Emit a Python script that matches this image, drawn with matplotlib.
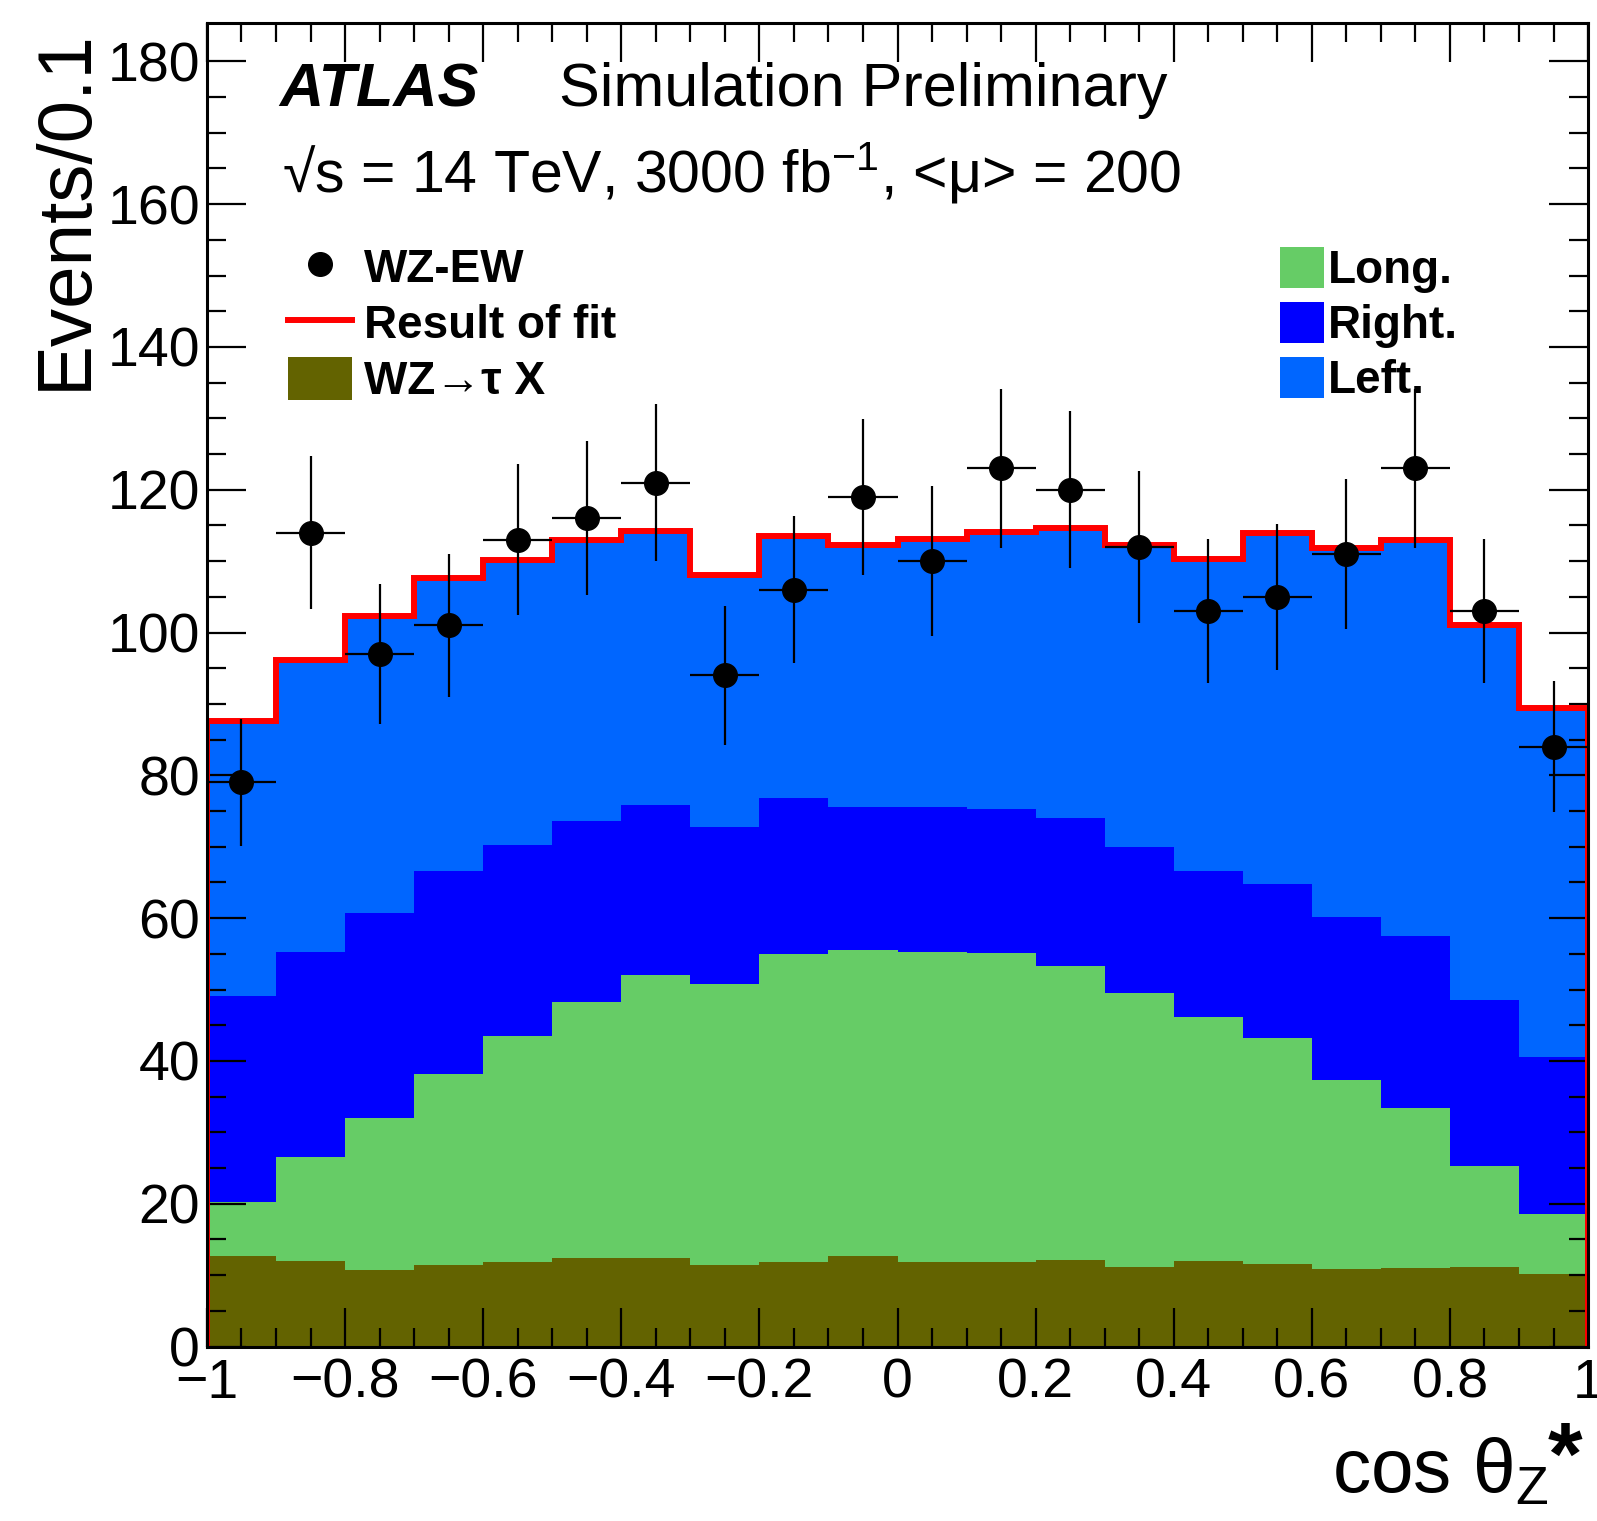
import numpy as np
import matplotlib
matplotlib.use("Agg")
import matplotlib.pyplot as plt
from matplotlib.lines import Line2D
from matplotlib.patches import Patch

plt.rcParams['font.family'] = ['Liberation Sans', 'DejaVu Sans']
plt.rcParams['mathtext.fontset'] = 'custom'
plt.rcParams['mathtext.rm'] = 'Liberation Sans'
plt.rcParams['mathtext.it'] = 'Liberation Sans:italic'
plt.rcParams['mathtext.bf'] = 'Liberation Sans:bold'
plt.rcParams['mathtext.default'] = 'regular'

# Bin edges in cos theta_Z*
edges = np.linspace(-1, 1, 21)

# Stacked components (events per bin)
wz_tau = [12.7, 12.0, 10.7, 11.4, 11.8, 12.4, 12.4, 11.4, 11.8, 12.7,
          11.8, 11.8, 12.1, 11.1, 12.0, 11.5, 10.9, 11.0, 11.2, 10.2]
long_pol = [7.6, 14.5, 21.3, 26.8, 31.7, 35.9, 39.6, 39.4, 43.2, 42.9,
            43.5, 43.3, 41.2, 38.4, 34.2, 31.7, 26.4, 22.4, 14.1, 8.3]
right_pol = [28.8, 28.8, 28.7, 28.4, 26.7, 25.3, 23.9, 21.9, 21.8, 20.0,
             20.2, 20.2, 20.7, 20.4, 20.4, 21.6, 22.8, 24.1, 23.2, 22.1]
left_pol = [38.5, 40.9, 41.6, 41.1, 40.0, 39.4, 38.3, 35.4, 36.7, 36.6,
            37.6, 38.8, 40.6, 42.3, 43.7, 49.2, 51.7, 55.5, 52.5, 48.9]

# Pseudo-data (WZ-EW) and its errors
data = [79, 114, 97, 101, 113, 116, 121, 94, 106, 119,
        110, 123, 120, 112, 103, 105, 111, 123, 103, 84]
data_err = [8.9, 10.7, 9.8, 10.0, 10.6, 10.8, 11.0, 9.7, 10.3, 10.9,
            10.5, 11.1, 11.0, 10.6, 10.1, 10.2, 10.5, 11.1, 10.1, 9.2]

xtick_vals = [-1, -0.8, -0.6, -0.4, -0.2, 0, 0.2, 0.4, 0.6, 0.8, 1]
xtick_labels = ['\u22121', '\u22120.8', '\u22120.6', '\u22120.4', '\u22120.2',
                '0', '0.2', '0.4', '0.6', '0.8', '1']
ytick_vals = [0, 20, 40, 60, 80, 100, 120, 140, 160, 180]

c_tau = '#636300'
c_long = '#66cc66'
c_right = '#0000ff'
c_left = '#0066ff'

fig = plt.figure(figsize=(15.97, 15.21), dpi=100)
ax = fig.add_axes([0.1296, 0.1147, 0.8648, 0.8703])

# stack the histograms
comps = [(wz_tau, c_tau), (long_pol, c_long), (right_pol, c_right), (left_pol, c_left)]
lower = np.zeros(len(data))
for vals, col in comps:
    upper = lower + np.array(vals)
    ax.stairs(upper, edges, baseline=lower, fill=True, color=col, lw=0, zorder=1)
    lower = upper
total = lower

ax.stairs(total, edges, baseline=0, fill=False, color='red', lw=4.3, zorder=2)

centers = 0.5 * (edges[:-1] + edges[1:])
half_w = 0.5 * (edges[1:] - edges[:-1])
ax.errorbar(centers, data, xerr=half_w, yerr=data_err, fmt='o', color='black',
            ms=17, elinewidth=1.6, capsize=0, zorder=3)

ax.set_xlim(-1, 1)
ax.set_ylim(0, 185.4)
ax.set_xticks(xtick_vals)
ax.set_xticklabels(xtick_labels)
ax.set_xticks(np.arange(-1, 1.001, 0.05), minor=True)
ax.set_yticks(ytick_vals)
ax.set_yticks(np.arange(0, 185, 5), minor=True)

ax.tick_params(which='both', direction='in', top=True, right=True, width=1.6)
ax.tick_params(which='major', length=28)
ax.tick_params(which='minor', length=14)
ax.tick_params(axis='y', labelsize=40, pad=5)
ax.tick_params(axis='x', labelsize=40, pad=8)
for s in ax.spines.values():
    s.set_linewidth(2.2)
    s.set_zorder(4)

ax.set_ylabel('Events/0.1', fontsize=55, loc='top')
ax.yaxis.set_label_coords(-0.076, 0.995)
ax.set_xlabel(r'cos $\theta_{Z}$', fontsize=55, loc='right')
ax.xaxis.set_label_coords(0.971, -0.068)
ax.text(0.9835, -0.086, '*', transform=ax.transAxes, fontsize=64,
        fontweight='bold', ha='center', va='center')

ax.text(0.052, 0.937, 'ATLAS', transform=ax.transAxes, fontsize=44,
        fontweight='bold', fontstyle='italic')
ax.text(0.255, 0.937, 'Simulation Preliminary', transform=ax.transAxes, fontsize=44)
ax.text(0.054, 0.872, '\u221as = 14 TeV, 3000 fb$^{-1}$, <\u03bc> = 200',
        transform=ax.transAxes, fontsize=42.5)

leg_font = {'family': ['Liberation Sans', 'DejaVu Sans'], 'weight': 'bold', 'size': 33}

h_left = [Line2D([], [], marker='o', ls='none', color='black', ms=17),
          Line2D([], [], color='red', lw=4.3),
          Patch(facecolor=c_tau, edgecolor='none')]
leg1 = ax.legend(h_left, ['WZ-EW', 'Result of fit', 'WZ\u2192\u03c4 X'],
                 loc='upper left', bbox_to_anchor=(0.0587, 0.832), frameon=False,
                 prop=leg_font, handlelength=1.4, handleheight=1.05,
                 handletextpad=0.25, labelspacing=0.2, borderpad=0, borderaxespad=0)
ax.add_artist(leg1)

h_right = [Patch(facecolor=c_long, edgecolor='none'),
           Patch(facecolor=c_right, edgecolor='none'),
           Patch(facecolor=c_left, edgecolor='none')]
ax.legend(h_right, ['Long.', 'Right.', 'Left.'],
          loc='upper left', bbox_to_anchor=(0.777, 0.831), frameon=False,
          prop=leg_font, handlelength=0.96, handleheight=1.0,
          handletextpad=0.08, labelspacing=0.2, borderpad=0, borderaxespad=0)

fig.savefig('out.png', dpi=100)
